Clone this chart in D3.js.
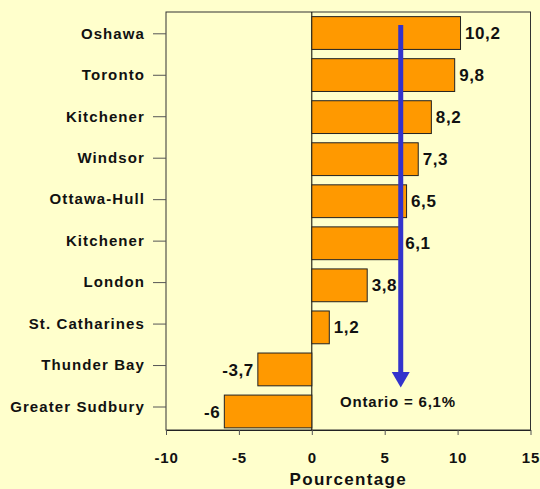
<!DOCTYPE html>
<html><head><meta charset="utf-8">
<script src="https://cdn.jsdelivr.net/npm/d3@7"></script>
<style>
html,body{margin:0;padding:0;background:#FFFFCC;}
svg{display:block;font-family:"Liberation Sans",Arial,sans-serif;font-weight:bold;}
</style></head>
<body>
<svg id="chart" width="540" height="489"></svg>
<script>
const categories = ["Oshawa","Toronto","Kitchener","Windsor","Ottawa-Hull","Kitchener","London","St. Catharines","Thunder Bay","Greater Sudbury"];
const values = [10.2, 9.8, 8.2, 7.3, 6.5, 6.1, 3.8, 1.2, -3.7, -6];
const valueLabels = ["10,2","9,8","8,2","7,3","6,5","6,1","3,8","1,2","-3,7","-6"];
const xTicks = [-10, -5, 0, 5, 10, 15];
const ontarioValue = 6.1;
const ontarioLabel = "Ontario = 6,1%";
const xTitle = "Pourcentage";

const svg = d3.select("#chart");
const m = {left:166, right:530.5, top:12, bottom:430};
const x = d3.scaleLinear().domain([-10,15]).range([m.left, m.right]);
const y = d3.scaleBand().domain(d3.range(categories.length)).range([m.top, 432.5]).paddingInner(0.22).paddingOuter(0.11);
const yTick = d3.scalePoint().domain(d3.range(categories.length)).range([33.3, 406.5]);

// plot frame
svg.append("rect").attr("x",m.left).attr("y",m.top).attr("width",m.right-m.left).attr("height",m.bottom-m.top)
  .attr("fill","#FFFFCC").attr("stroke","#333").attr("stroke-width",1);

// zero line
svg.append("line").attr("x1",x(0)).attr("x2",x(0)).attr("y1",m.top).attr("y2",m.bottom).attr("stroke","#000").attr("stroke-width",1);

// bars
svg.append("g").selectAll("rect").data(values).join("rect")
  .attr("x",(d)=>x(Math.min(0,d))).attr("width",(d)=>Math.abs(x(d)-x(0)))
  .attr("y",(d,i)=>y(i)).attr("height",y.bandwidth())
  .attr("fill","#FF9900").attr("stroke","#222").attr("stroke-width",1);

// value labels
svg.append("g").selectAll("text").data(values).join("text")
  .attr("x",(d)=>d>=0 ? x(d)+4.5 : x(d)-4)
  .attr("y",(d,i)=>y(i)+y.bandwidth()/2)
  .attr("dy","0.36em")
  .attr("text-anchor",(d)=>d>=0?"start":"end")
  .attr("font-size",17).attr("letter-spacing","0.6px").attr("fill","#111")
  .text((d,i)=>valueLabels[i]);

// y axis
const yAxis = d3.axisLeft(yTick).tickSize(13).tickPadding(8).tickFormat((i)=>categories[i]);
const gy = svg.append("g").attr("transform",`translate(${m.left},0)`).call(yAxis);
gy.select(".domain").remove();
gy.selectAll(".tick line").attr("stroke","#555");
gy.selectAll(".tick text").attr("font-size",15).attr("letter-spacing","1.1px").attr("fill","#111")
  .attr("font-family","Liberation Sans, Arial, sans-serif").attr("font-weight","bold");

// x axis
const xAxis = d3.axisBottom(x).tickValues(xTicks).tickSize(5).tickSizeOuter(0).tickPadding(17).tickFormat((d)=>String(d));
const gx = svg.append("g").attr("transform",`translate(0,${m.bottom})`).call(xAxis);
gx.select(".domain").attr("stroke","#222");
gx.selectAll(".tick line").attr("stroke","#555");
gx.selectAll(".tick text").attr("font-size",15).attr("letter-spacing","0.8px").attr("fill","#111")
  .attr("font-family","Liberation Sans, Arial, sans-serif").attr("font-weight","bold");

svg.append("text").attr("x",x(2.5)).attr("y",485).attr("text-anchor","middle")
  .attr("font-size",17).attr("letter-spacing","1.3px").attr("fill","#111").text(xTitle);

// Ontario arrow
const ax = x(ontarioValue);
svg.append("line").attr("x1",ax).attr("x2",ax).attr("y1",25).attr("y2",375)
  .attr("stroke","#3333CC").attr("stroke-width",5);
svg.append("path").attr("d",`M${ax-9},372 L${ax+9},372 L${ax},387.5 Z`).attr("fill","#3333CC");

svg.append("text").attr("x",398).attr("y",406.7).attr("text-anchor","middle")
  .attr("font-size",15).attr("letter-spacing","0.8px").attr("fill","#111").text(ontarioLabel);
</script>
</body></html>
